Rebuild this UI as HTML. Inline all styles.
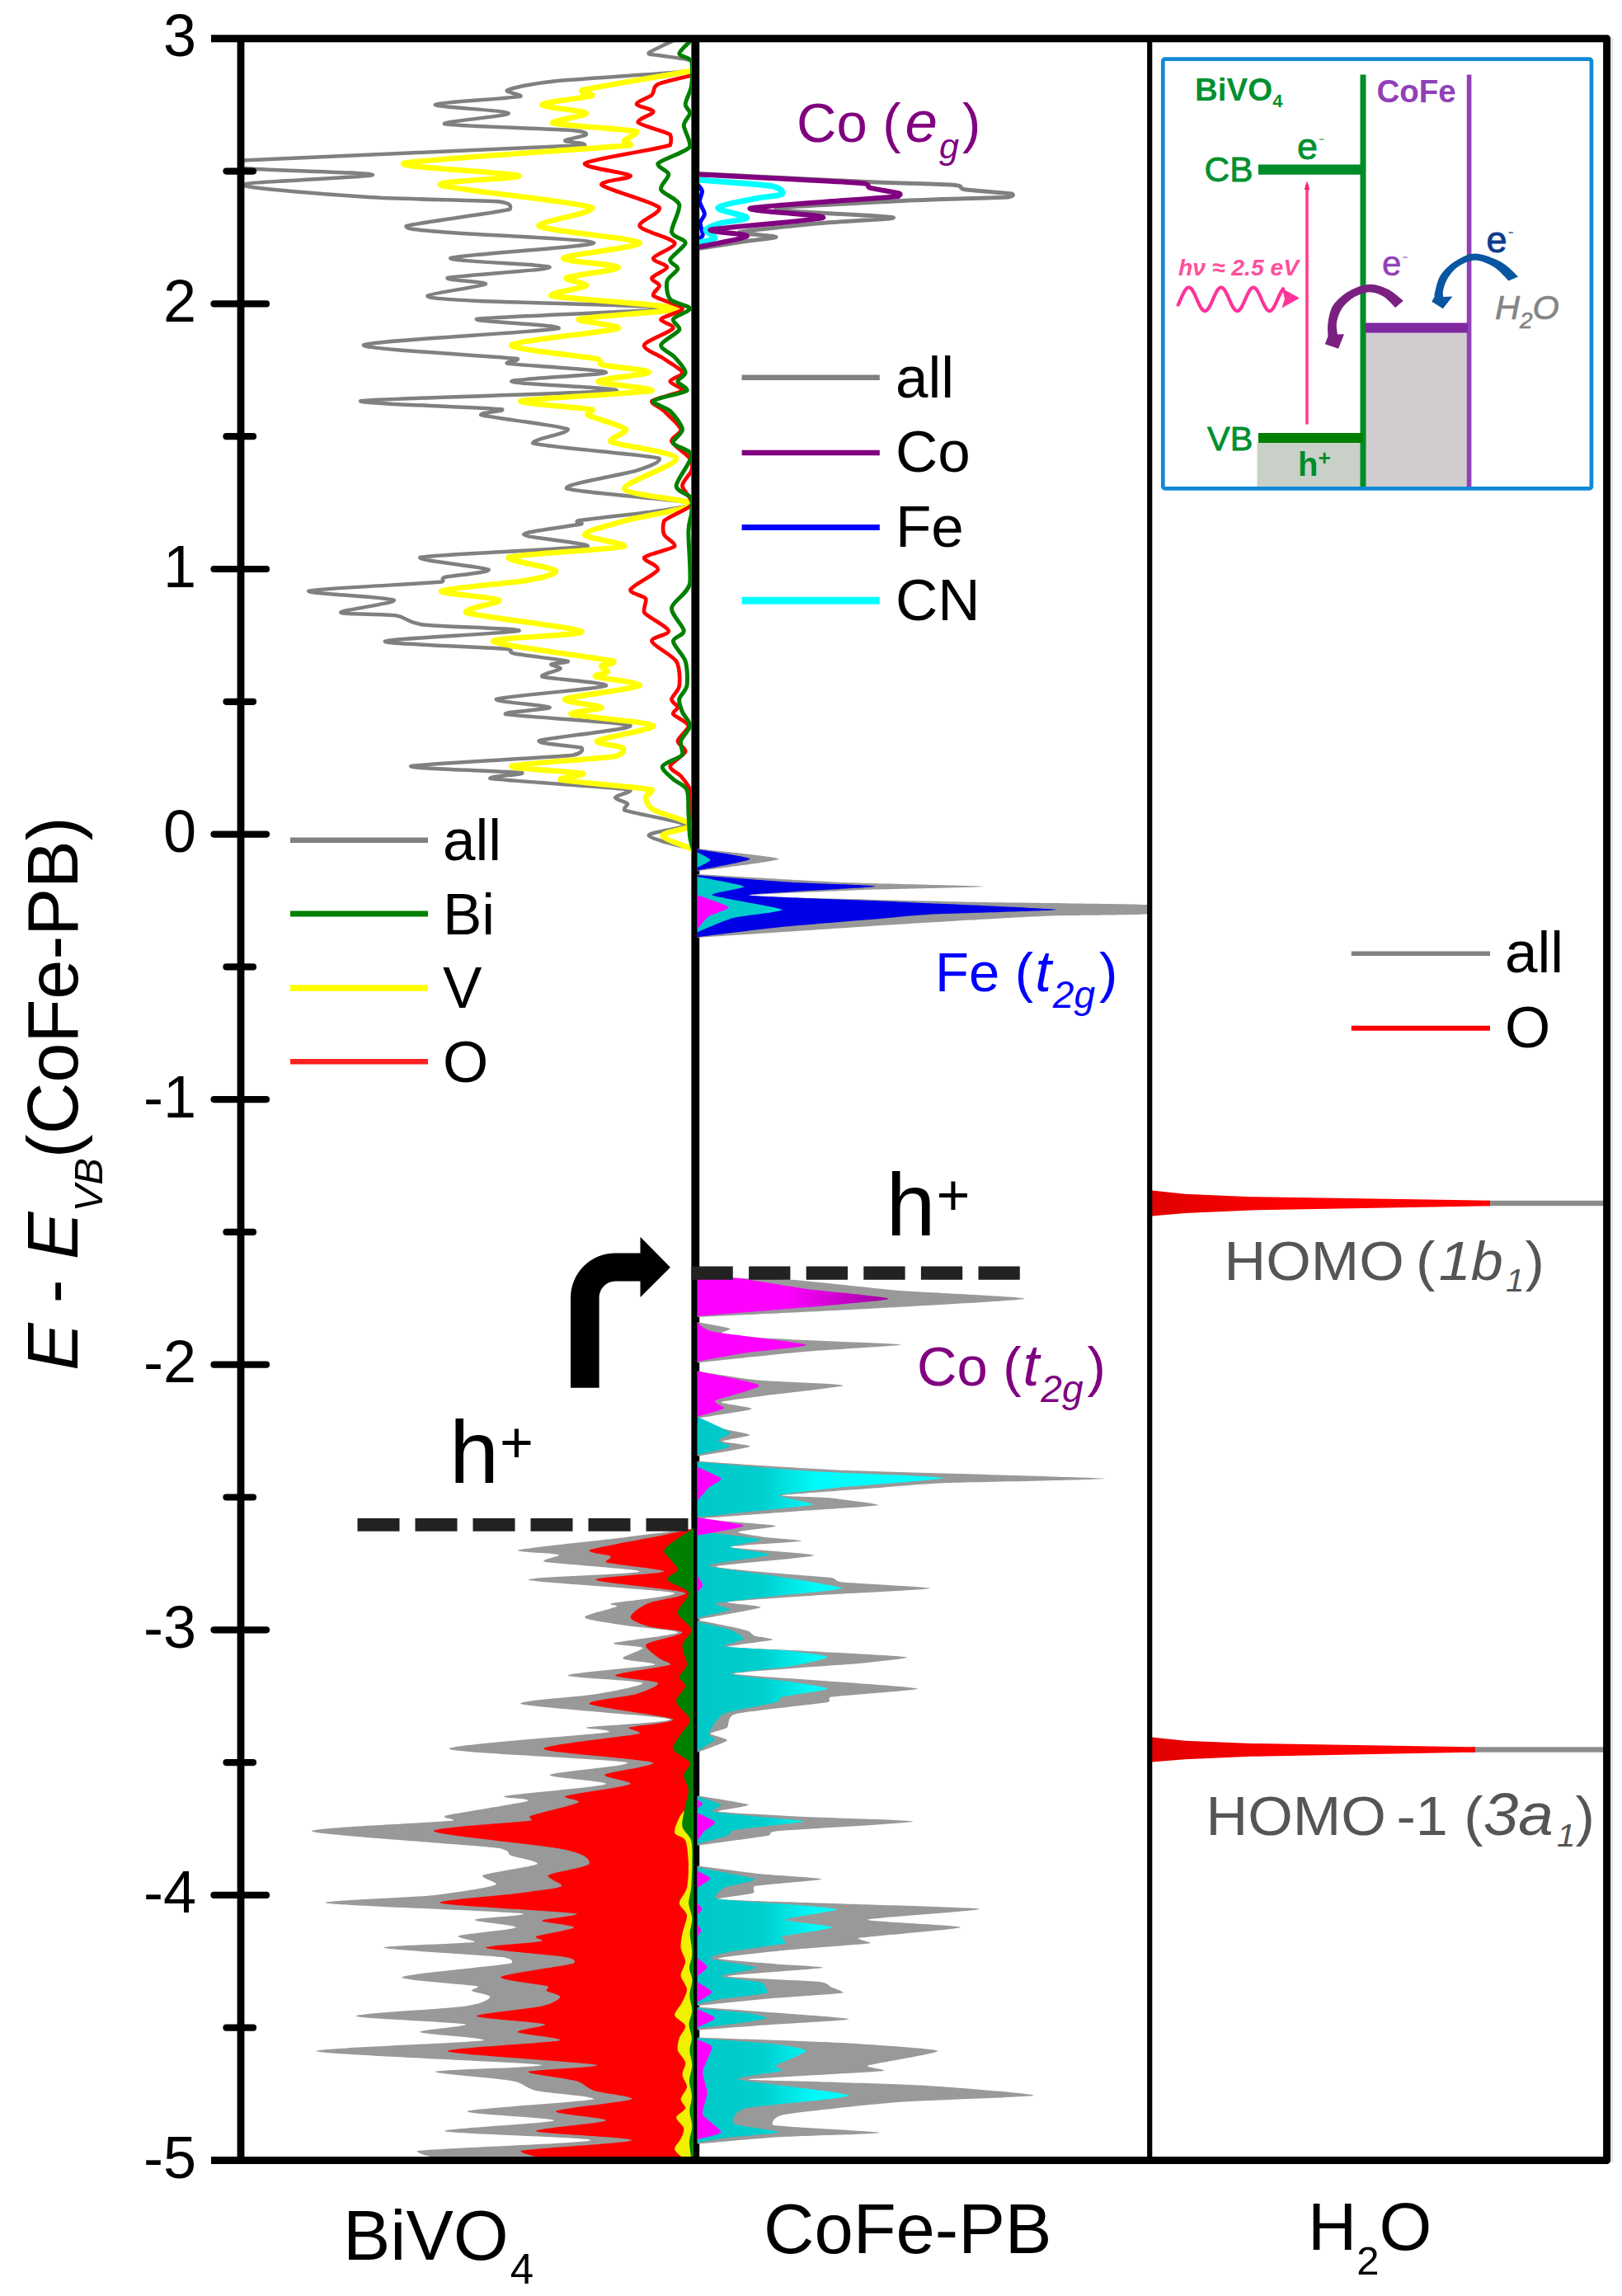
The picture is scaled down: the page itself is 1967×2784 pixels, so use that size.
<!DOCTYPE html>
<html><head><meta charset="utf-8"><title>DOS</title>
<style>
html,body{margin:0;padding:0;background:#fff;}
svg{display:block;}
text{font-family:"Liberation Sans",sans-serif;}
</style></head>
<body>
<svg width="1967" height="2784" viewBox="0 0 1967 2784">
<defs>
<linearGradient id="cy" gradientUnits="userSpaceOnUse" x1="848" y1="0" x2="1100" y2="0">
<stop offset="0" stop-color="#00c8c8"/><stop offset="0.3" stop-color="#00cece"/><stop offset="0.56" stop-color="#00fafa"/><stop offset="1" stop-color="#00ffff"/>
</linearGradient>
<linearGradient id="mg" gradientUnits="userSpaceOnUse" x1="848" y1="0" x2="1080" y2="0">
<stop offset="0" stop-color="#ff00ff"/><stop offset="0.45" stop-color="#ff00ff"/><stop offset="1" stop-color="#a000a0"/>
</linearGradient>
<linearGradient id="rd" gradientUnits="userSpaceOnUse" x1="1397" y1="0" x2="1810" y2="0">
<stop offset="0" stop-color="#e00000"/><stop offset="0.4" stop-color="#ff0000"/><stop offset="1" stop-color="#ff0000"/>
</linearGradient>
</defs>
<rect x="0" y="0" width="1967" height="2784" fill="#ffffff"/>
<clipPath id="cl"><rect x="292" y="46.8" width="546.7" height="2572.7"/></clipPath>
<clipPath id="cm"><rect x="847.9" y="46.8" width="546.3" height="2572.7"/></clipPath>
<line x1="843.3" y1="46.8" x2="843.3" y2="2619.5" stroke="#000" stroke-width="9.8"/>
<g fill="none" stroke-linejoin="round" stroke-linecap="round" clip-path="url(#cl)">
<path d="M818.2,48.5 C813.8,50.7 789.6,61.4 786.8,64.0 C785.3,66.6 790.6,65.6 797.9,67.0 C805.1,68.3 832.6,71.1 838.6,73.6 C841.9,76.2 841.9,82.0 840.4,85.5 C817.1,89.0 703.7,95.1 672.1,98.4 C640.5,101.8 620.5,106.9 614.8,109.5 C613.3,112.1 632.9,114.5 631.4,116.9 C619.2,119.4 529.9,124.1 527.8,126.9 C526.3,129.8 615.1,134.0 616.6,137.3 C618.1,140.5 537.4,147.4 538.9,150.2 C548.8,153.1 662.8,155.8 686.9,157.6 C711.0,159.4 711.2,161.4 710.9,163.2 C710.7,165.0 685.3,168.8 685.1,170.6 C684.8,172.4 710.6,172.7 709.1,176.1 C654.5,179.5 352.8,190.7 294.8,194.6 C293.3,198.5 293.3,201.4 294.8,203.9 C316.8,206.3 452.0,209.1 452.0,212.0 C452.0,214.8 295.6,220.4 294.8,224.2 C294.0,228.0 403.0,236.2 446.5,239.0 C490.0,241.8 581.4,242.5 605.5,244.5 C620.0,246.6 620.0,249.7 618.5,253.8 C602.7,257.9 503.8,270.3 492.7,274.1 C491.2,278.0 507.1,278.7 538.9,281.5 C570.8,284.4 719.2,290.1 720.2,294.5 C721.2,298.9 553.8,308.8 546.3,313.0 C544.8,317.1 667.1,320.7 666.6,324.1 C666.0,327.4 553.5,334.2 542.6,337.0 C541.1,339.9 590.4,341.4 588.9,344.4 C585.5,347.4 520.4,355.6 518.6,358.5 C517.1,361.3 534.8,362.6 575.9,364.8 C617.1,366.9 812.4,370.9 812.7,374.0 C812.9,377.1 596.7,383.6 577.8,387.0 C576.3,390.3 679.2,393.7 677.7,398.1 C658.5,402.5 447.9,413.2 440.9,418.4 C439.4,423.6 603.4,431.9 627.7,435.1 C629.2,438.2 613.3,438.3 614.8,440.6 C629.8,442.9 734.2,448.4 735.0,451.5 C735.8,454.5 618.8,459.4 620.3,462.6 C622.1,465.7 749.4,470.3 747.9,473.6 C722.3,477.0 456.6,483.0 437.2,486.2 C435.7,489.4 588.8,494.2 609.2,496.6 C610.7,499.0 581.8,499.9 583.3,503.2 C594.5,506.6 680.0,515.9 688.8,520.6 C690.3,525.4 644.7,532.4 646.2,537.3 C661.8,542.2 782.1,551.1 799.7,555.8 C801.2,560.4 787.8,565.5 772.0,570.6 C756.2,575.6 685.4,586.3 686.9,592.0 C696.2,597.7 836.8,605.7 838.6,611.3 C840.1,616.8 718.5,628.2 699.9,631.6 C698.4,635.0 706.9,633.0 705.4,635.3 C696.3,637.6 634.1,644.5 635.1,648.2 C636.2,652.0 714.3,658.4 712.8,662.3 C695.2,666.2 526.2,672.0 509.3,676.0 C507.8,680.0 588.4,687.4 592.6,690.8 C594.1,694.2 547.0,698.0 538.9,700.0 C533.7,702.1 540.4,703.3 535.2,705.6 C512.2,707.9 382.4,713.6 374.3,716.7 C372.8,719.8 472.5,724.2 477.9,727.8 C479.4,731.4 412.9,740.0 413.2,742.6 C413.4,745.2 465.8,744.2 479.8,746.3 C493.7,748.3 492.1,754.8 513.0,757.4 C534.0,760.0 631.1,761.9 629.6,764.8 C623.1,767.6 468.9,774.6 466.8,777.7 C465.3,780.8 592.8,784.9 614.8,787.0 C625.5,789.0 613.7,790.4 624.0,792.5 C634.4,794.6 682.5,800.0 688.8,801.8 C690.3,803.6 669.7,804.2 668.4,805.5 C667.1,806.8 681.0,808.9 679.5,811.0 C678.0,813.1 655.8,817.4 657.3,820.3 C665.1,823.1 736.5,827.5 735.0,831.4 C727.2,835.2 611.4,844.1 601.8,847.8 C600.3,851.5 665.0,855.2 666.6,857.7 C668.1,860.3 611.4,862.8 612.9,865.9 C626.6,869.0 758.9,875.4 764.6,879.9 C766.1,884.5 661.9,894.7 653.6,898.4 C652.1,902.2 699.7,904.5 705.4,906.9 C706.9,909.4 706.9,912.7 694.3,915.8 C665.3,918.9 506.8,926.1 498.2,929.1 C496.7,932.1 619.8,935.2 633.3,937.3 C634.8,939.3 592.9,941.1 594.4,943.9 C612.8,946.8 743.4,954.4 764.6,957.6 C766.1,960.8 746.6,964.5 746.1,966.9 C745.6,969.2 759.3,972.1 760.9,974.3 C762.4,976.4 755.7,978.8 757.2,982.4 C767.0,986.0 827.0,995.9 831.2,1000.2 C832.7,1004.5 785.5,1009.0 786.8,1013.1 C788.1,1017.3 832.9,1027.4 840.4,1029.8" stroke="#808080" stroke-width="4.5"/>
<path d="M840.4,85.5 C821.5,88.9 722.5,105.3 705.4,109.5 C703.9,113.8 719.8,113.4 718.3,115.8 C711.6,118.3 658.3,123.9 657.3,126.9 C656.3,129.9 709.1,134.2 710.9,137.3 C712.4,140.4 668.8,146.0 670.3,149.1 C678.8,152.2 759.8,156.5 772.0,159.5 C773.5,162.5 758.2,168.2 757.2,170.6 C756.2,172.9 766.1,172.2 764.6,176.1 C727.0,180.0 507.9,193.1 489.0,198.3 C487.5,203.5 623.4,209.5 629.6,213.1 C631.1,216.7 531.9,218.8 533.4,224.2 C545.8,229.6 701.5,245.0 718.3,251.9 C719.8,258.9 652.1,268.2 653.6,274.1 C661.6,280.1 771.5,289.1 775.7,294.5 C777.2,299.9 686.8,308.8 683.2,313.0 C681.7,317.1 749.3,320.7 749.8,324.1 C750.3,327.4 692.3,333.9 686.9,337.0 C685.4,340.1 712.4,343.3 710.9,346.3 C708.4,349.3 666.9,354.6 668.4,358.5 C683.7,362.4 815.4,370.0 820.1,374.0 C821.6,378.0 711.5,383.6 701.7,387.0 C700.2,390.3 751.3,393.7 749.8,398.1 C738.4,402.5 623.9,413.2 620.3,418.4 C618.8,423.6 708.4,431.7 723.9,435.1 C732.8,438.4 722.5,440.2 731.3,442.5 C740.1,444.7 787.6,448.6 786.8,451.5 C786.0,454.3 725.2,459.4 725.7,462.6 C726.3,465.7 792.0,470.3 790.5,473.6 C777.3,477.0 641.5,483.0 631.4,486.2 C629.9,489.4 707.0,494.2 718.3,496.6 C719.8,499.0 711.3,499.9 712.8,503.2 C718.5,506.6 755.2,516.1 759.0,520.6 C760.5,525.1 739.0,530.5 740.5,535.4 C749.1,540.3 817.7,547.7 820.1,555.8 C821.6,563.8 755.7,585.0 757.2,592.8 C759.9,600.5 839.3,605.8 839.3,611.3 C839.3,616.7 775.4,626.4 757.2,631.6 C739.0,636.8 709.1,644.0 709.1,648.2 C709.1,652.5 758.7,658.4 757.2,662.3 C744.2,666.2 628.3,671.8 616.6,676.0 C615.1,680.1 670.9,688.0 674.0,691.9 C675.5,695.8 658.2,700.3 638.8,703.7 C619.4,707.2 539.9,713.3 535.2,716.7 C533.7,720.0 601.4,724.2 605.5,727.8 C607.0,731.4 563.3,737.2 564.8,742.6 C578.8,747.9 700.7,761.0 705.4,765.9 C706.9,770.8 596.6,772.7 598.1,777.7 C603.6,782.7 725.9,797.6 744.2,801.8 C745.7,805.9 730.5,805.5 729.4,807.3 C728.4,809.1 737.9,812.9 736.8,814.7 C735.8,816.5 720.5,817.9 722.0,820.3 C727.5,822.6 777.2,827.5 775.7,831.4 C770.5,835.2 691.5,844.1 685.1,847.8 C683.6,851.5 728.4,855.2 729.4,857.7 C730.5,860.3 691.0,862.8 692.5,865.9 C701.3,869.0 787.9,875.4 792.3,879.9 C793.8,884.5 729.1,894.7 723.9,898.4 C722.4,902.2 752.2,904.4 755.3,906.9 C756.8,909.5 756.8,913.8 746.1,916.9 C727.2,920.0 625.8,926.2 620.3,929.1 C618.8,932.1 699.0,935.7 707.3,938.0 C708.8,940.3 678.0,942.7 679.5,945.4 C691.2,948.2 776.0,954.6 790.5,957.6 C792.0,960.6 782.8,963.5 783.1,966.9 C783.3,970.2 784.6,977.0 792.3,981.7 C800.1,986.3 837.0,995.8 838.6,1000.2 C840.1,1004.6 803.2,1009.0 803.4,1013.1 C803.7,1017.3 835.2,1027.4 840.4,1029.8" stroke="#ffff00" stroke-width="6.6"/>
<path d="M840.4,91.0 C834.5,92.6 804.9,98.8 797.9,102.1 C790.9,105.5 794.1,111.7 790.5,115.1 C786.9,118.4 771.7,123.3 772.0,126.2 C772.2,129.0 792.1,132.3 792.3,135.4 C792.6,138.5 772.3,144.5 773.8,148.4 C776.7,152.3 807.2,159.3 812.7,163.2 C814.2,167.1 814.2,171.2 812.7,176.1 C798.2,181.0 715.8,193.1 709.1,198.3 C707.6,203.5 761.7,209.5 764.6,213.1 C766.1,216.7 727.9,218.8 729.4,224.2 C734.4,229.6 793.3,245.0 799.7,251.9 C801.2,258.9 774.2,268.2 775.7,274.1 C778.3,280.1 815.9,289.1 818.2,294.5 C819.7,299.9 793.6,308.8 792.3,313.0 C791.0,317.1 809.2,320.7 809.0,324.1 C808.7,327.4 791.8,333.9 790.5,337.0 C789.2,340.1 799.5,343.3 799.7,346.3 C800.0,349.3 790.8,354.6 792.3,358.5 C796.2,362.4 826.2,370.0 827.5,374.0 C828.8,378.0 803.1,383.6 801.6,387.0 C800.1,390.3 817.9,393.7 816.4,398.1 C813.5,402.5 782.8,413.2 781.2,418.4 C779.7,423.6 798.8,430.4 805.3,435.1 C811.8,439.7 826.4,447.6 827.5,451.5 C828.5,455.3 812.7,459.4 812.7,462.6 C812.7,465.7 829.0,470.3 827.5,473.6 C824.4,477.0 793.6,482.8 790.5,486.2 C789.0,489.7 800.4,493.6 805.3,498.4 C810.2,503.3 824.3,515.5 825.6,520.6 C826.9,525.8 813.0,530.5 814.5,535.4 C816.1,540.3 833.4,550.9 836.7,555.8 C840.1,560.7 839.9,565.9 838.6,570.6 C837.3,575.2 827.4,583.4 827.5,589.1 C827.6,594.8 840.8,605.3 839.3,611.3 C836.2,617.2 810.0,626.4 805.3,631.6 C803.8,636.8 803.8,644.0 805.3,648.2 C807.1,652.5 819.7,658.4 818.2,662.3 C814.9,666.2 784.1,672.0 781.2,676.0 C779.7,680.0 799.4,685.4 797.9,690.8 C795.5,696.2 766.7,709.9 764.6,714.8 C763.1,719.8 780.8,722.0 783.1,725.9 C784.6,729.8 779.7,737.1 781.2,742.6 C785.1,748.0 809.5,759.9 810.8,764.8 C812.1,769.7 789.2,772.5 790.5,777.7 C791.8,782.9 815.4,794.3 820.1,801.8 C824.7,809.3 824.5,824.9 823.8,831.4 C823.0,837.8 814.8,844.1 814.5,847.8 C814.3,851.5 821.7,855.2 821.9,857.7 C822.2,860.3 814.9,862.8 816.4,865.9 C818.2,869.0 834.1,875.4 834.9,879.9 C835.6,884.5 822.4,894.0 821.9,898.4 C821.4,902.8 832.5,907.1 831.2,911.4 C829.9,915.7 813.5,925.0 812.7,929.1 C811.9,933.3 822.3,937.0 825.6,941.0 C829.0,945.0 834.9,951.4 836.7,957.6 C838.5,963.8 838.1,975.3 838.6,985.4 C839.1,995.5 840.2,1023.5 840.4,1029.8" stroke="#ff0000" stroke-width="4.7"/>
<path d="M838.6,48.5 C836.5,50.8 823.8,61.5 823.8,65.1 C823.8,68.8 836.5,69.0 838.6,74.4 C840.1,79.8 839.6,96.7 838.6,104.0 C837.5,111.2 831.4,121.5 831.2,126.2 C830.9,130.8 837.0,133.6 836.7,137.3 C836.5,140.9 829.3,146.4 829.3,152.1 C829.3,157.8 838.2,171.5 836.7,178.0 C832.3,184.4 801.5,193.6 797.9,198.3 C796.4,203.0 810.3,206.9 810.8,211.3 C811.3,215.7 800.1,224.6 801.6,229.8 C803.4,234.9 822.0,241.0 823.8,248.2 C825.3,255.5 813.5,275.1 814.5,281.5 C815.6,288.0 831.4,289.8 831.2,294.5 C830.9,299.1 814.0,310.4 812.7,314.8 C811.4,319.2 822.4,322.3 821.9,325.9 C821.4,329.6 810.3,335.5 809.0,340.7 C807.7,345.9 808.8,358.3 812.7,362.9 C816.6,367.6 836.2,370.7 836.7,374.0 C837.2,377.4 818.2,383.3 816.4,387.0 C814.9,390.6 825.3,395.5 823.8,399.9 C821.7,404.3 802.4,413.7 801.6,418.4 C800.8,423.1 814.1,428.6 818.2,433.2 C822.4,437.8 830.7,447.3 831.2,451.5 C831.7,455.6 821.7,459.4 821.9,462.6 C822.2,465.7 834.5,470.3 833.0,473.6 C828.9,477.0 795.2,482.8 792.3,486.2 C790.8,489.7 807.8,493.6 812.7,498.4 C817.6,503.3 827.0,515.2 827.5,520.6 C828.0,526.1 814.9,532.9 816.4,537.3 C817.9,541.7 838.1,544.8 838.6,552.1 C839.1,559.3 820.1,581.8 820.1,589.1 C820.1,596.3 836.0,599.2 838.6,603.9 C840.1,608.5 839.1,616.7 838.6,622.4 C838.1,628.1 835.1,632.6 834.9,644.5 C834.6,656.5 838.2,694.5 836.7,707.4 C833.9,720.4 815.6,729.0 814.5,737.0 C813.5,745.1 829.1,759.1 829.3,764.8 C829.6,770.5 816.1,772.5 816.4,777.7 C816.6,782.9 828.8,794.3 831.2,801.8 C833.5,809.3 834.1,824.9 833.0,831.4 C832.0,837.8 824.5,843.3 823.8,847.8 C823.0,852.2 825.7,858.8 827.5,863.3 C829.3,867.8 837.0,875.0 836.7,879.9 C836.5,884.9 826.9,893.5 825.6,898.4 C824.3,903.4 829.0,910.8 827.5,915.1 C824.4,919.4 805.0,925.0 803.4,929.1 C801.9,933.3 812.2,940.7 816.4,944.7 C820.5,948.7 830.4,951.9 833.0,957.6 C835.6,963.3 834.4,977.3 834.9,985.4 C835.4,993.4 835.9,1008.7 836.7,1015.0 C837.5,1021.2 839.9,1027.7 840.4,1029.8" stroke="#008000" stroke-width="5.0"/>
</g>
<path d="M840.4,1853.8 C827.7,1855.4 779.6,1861.3 749.8,1864.9 C720.0,1868.5 637.8,1876.8 627.7,1879.7 C626.2,1882.5 673.3,1883.3 677.7,1885.2 C679.2,1887.2 657.7,1890.5 659.2,1893.4 C672.9,1896.2 777.2,1902.5 775.7,1905.6 C773.1,1908.7 639.2,1911.9 640.7,1915.6 C646.6,1919.2 804.2,1927.4 818.2,1931.5 C819.7,1935.5 750.4,1942.1 740.5,1944.4 C739.0,1946.8 749.4,1945.8 747.9,1948.1 C743.5,1950.5 708.3,1958.0 709.1,1961.1 C709.9,1964.2 737.7,1967.7 753.5,1970.3 C769.3,1972.9 823.2,1976.5 821.9,1979.6 C820.6,1982.7 750.2,1989.9 744.2,1992.5 C742.7,1995.1 777.8,1995.5 779.4,1998.1 C780.9,2000.7 753.8,2008.2 755.3,2011.0 C757.4,2013.9 795.7,2015.6 794.2,2018.4 C784.9,2021.3 690.8,2028.2 688.8,2031.4 C687.3,2034.5 774.5,2037.4 779.4,2040.6 C780.9,2043.8 744.6,2050.5 723.9,2054.0 C703.2,2057.6 629.9,2061.6 631.4,2065.9 C643.8,2070.2 801.5,2080.7 812.7,2084.7 C814.2,2088.8 721.3,2092.6 710.9,2094.7 C709.4,2096.9 740.2,2096.7 738.7,2100.3 C715.4,2103.9 543.0,2115.5 544.5,2120.6 C547.6,2125.8 743.8,2132.9 760.9,2137.3 C762.4,2141.7 670.2,2148.4 666.6,2152.1 C665.1,2155.7 736.5,2159.5 735.0,2163.2 C727.2,2166.8 624.3,2175.1 611.1,2178.0 C609.6,2180.8 642.2,2180.1 640.7,2183.5 C630.6,2186.9 551.6,2198.6 538.9,2202.0 C537.4,2205.4 551.5,2205.0 550.0,2207.6 C527.5,2210.1 376.5,2215.8 378.0,2220.5 C385.8,2225.2 571.6,2236.7 605.5,2240.9 C621.8,2245.0 613.8,2247.4 620.3,2250.1 C626.8,2252.8 653.3,2256.7 651.8,2260.1 C646.8,2263.5 592.2,2270.6 585.2,2274.1 C583.7,2277.7 603.3,2281.9 601.8,2285.2 C593.3,2288.6 553.1,2295.1 524.1,2298.2 C495.1,2301.3 393.2,2304.3 394.7,2307.4 C410.2,2310.5 609.7,2317.5 635.1,2320.4 C636.6,2323.2 577.2,2325.5 575.9,2327.8 C574.6,2330.1 627.4,2334.3 625.9,2337.0 C623.0,2339.8 562.6,2344.9 555.6,2347.4 C554.1,2349.9 577.4,2352.8 575.9,2354.8 C563.2,2356.8 463.5,2359.2 465.0,2361.8 C469.9,2364.4 589.3,2370.6 611.1,2373.2 C621.8,2375.9 621.8,2377.3 620.3,2380.6 C603.0,2384.0 492.8,2393.4 487.2,2397.3 C485.7,2401.2 567.7,2406.1 579.6,2408.4 C581.1,2410.7 570.7,2412.1 572.2,2413.9 C574.3,2415.8 595.5,2418.7 594.4,2421.3 C593.4,2423.9 587.6,2429.2 564.8,2432.4 C542.0,2435.7 431.7,2441.5 431.7,2444.6 C431.7,2447.7 554.0,2451.9 564.8,2454.6 C566.3,2457.3 507.8,2461.2 509.3,2463.9 C512.5,2466.6 588.5,2470.6 587.0,2473.9 C569.4,2477.1 382.1,2483.0 383.6,2487.2 C393.4,2491.4 637.1,2500.4 657.3,2503.8 C658.8,2507.3 533.0,2509.3 527.8,2512.0 C526.3,2514.7 603.2,2519.9 620.3,2523.1 C637.4,2526.3 635.9,2531.8 649.9,2534.9 C663.9,2538.0 721.7,2541.7 720.2,2545.3 C708.5,2548.8 573.4,2556.4 566.7,2560.1 C565.2,2563.7 673.6,2567.8 672.1,2571.2 C668.2,2574.5 537.4,2580.7 538.9,2584.1 C545.2,2587.5 718.0,2591.8 716.5,2595.2 C711.8,2598.6 530.5,2604.8 505.6,2608.1 C504.1,2611.5 534.3,2617.7 538.9,2619.2 L538.9,2620.0 L840.9,2620.0 L840.9,1853.8 Z" fill="#999999"/>
<path d="M840.4,1853.8 C835.5,1854.8 822.9,1857.6 805.3,1861.2 C787.7,1864.8 723.7,1876.1 714.6,1879.7 C713.1,1883.3 737.7,1885.0 740.5,1887.1 C742.0,1889.2 733.5,1891.9 735.0,1894.5 C744.1,1897.1 806.8,1902.6 805.3,1905.6 C803.5,1908.5 720.5,1911.9 722.0,1915.6 C725.7,1919.2 822.4,1927.4 831.2,1931.5 C832.7,1935.5 794.3,1940.3 784.9,1944.4 C775.6,1948.6 764.3,1957.2 764.6,1961.1 C764.8,1965.0 778.0,1969.6 786.8,1972.2 C795.6,1974.8 828.0,1976.5 827.5,1979.6 C827.0,1982.7 787.0,1990.0 783.1,1994.4 C781.6,1998.8 795.6,2007.6 799.7,2011.0 C803.9,2014.4 814.2,2015.6 812.7,2018.4 C805.2,2021.3 748.2,2028.2 746.1,2031.4 C744.6,2034.5 794.3,2037.4 797.9,2040.6 C799.4,2043.8 783.6,2050.5 772.0,2054.0 C760.3,2057.6 713.1,2061.6 714.6,2065.9 C720.9,2070.2 809.6,2080.7 816.4,2084.7 C817.9,2088.8 768.4,2092.3 762.7,2094.7 C761.2,2097.2 777.2,2098.5 775.7,2102.1 C761.2,2105.8 657.7,2115.7 659.2,2120.6 C661.5,2125.5 782.0,2132.9 792.3,2137.3 C793.8,2141.7 737.0,2148.4 733.1,2152.1 C731.6,2155.7 766.1,2159.5 764.6,2163.2 C757.9,2166.8 693.9,2174.9 685.1,2178.0 C683.6,2181.1 703.2,2182.0 701.7,2185.4 C695.7,2188.7 650.5,2198.9 642.5,2202.0 C641.0,2205.1 645.9,2205.0 644.4,2207.6 C628.1,2210.1 524.5,2215.6 526.0,2220.5 C531.7,2225.4 658.6,2237.2 685.1,2242.7 C711.5,2248.2 716.1,2255.7 714.6,2260.1 C711.8,2264.5 669.4,2270.4 664.7,2274.1 C663.2,2277.9 682.9,2284.1 681.4,2287.1 C676.4,2290.1 650.3,2292.7 629.6,2295.6 C608.9,2298.4 531.9,2304.0 533.4,2307.4 C543.2,2310.9 682.5,2317.4 699.9,2320.4 C701.4,2323.4 657.8,2326.6 657.3,2328.9 C656.8,2331.2 697.2,2334.3 696.2,2337.0 C695.1,2339.7 655.4,2345.8 649.9,2348.1 C648.4,2350.5 658.8,2351.8 657.3,2353.7 C648.8,2355.6 587.4,2359.1 588.9,2361.8 C593.0,2364.6 671.9,2370.6 686.9,2373.2 C697.7,2375.9 697.7,2377.3 696.2,2380.6 C685.0,2384.0 611.8,2393.4 607.4,2397.3 C605.9,2401.2 656.9,2406.1 664.7,2408.4 C666.2,2410.7 661.4,2412.1 662.9,2413.9 C664.9,2415.8 680.3,2418.7 679.5,2421.3 C678.7,2423.9 671.6,2429.2 657.3,2432.4 C643.1,2435.7 577.3,2441.5 577.8,2444.6 C578.3,2447.7 654.0,2451.9 661.0,2454.6 C662.5,2457.3 626.2,2461.2 627.7,2463.9 C630.3,2466.6 681.0,2470.6 679.5,2473.9 C667.6,2477.1 541.1,2483.0 542.6,2487.2 C548.9,2491.4 710.2,2500.4 723.9,2503.8 C725.4,2507.3 644.3,2509.3 640.7,2512.0 C639.2,2514.7 686.9,2519.9 698.0,2523.1 C709.1,2526.3 710.6,2531.8 720.2,2534.9 C729.8,2538.0 767.9,2541.7 766.4,2545.3 C760.0,2548.8 678.4,2556.4 674.0,2560.1 C672.5,2563.7 736.5,2567.8 735.0,2571.2 C731.6,2574.5 648.4,2580.7 649.9,2584.1 C654.3,2587.5 767.9,2591.8 766.4,2595.2 C763.8,2598.6 645.1,2604.8 631.4,2608.1 C629.9,2611.5 663.2,2617.7 668.4,2619.2 L668.4,2620.0 L840.9,2620.0 L840.9,1853.8 Z" fill="#ff0000"/>
<path d="M838.6,2178.0 C838.1,2179.5 836.9,2185.4 834.9,2189.1 C832.8,2192.7 826.1,2199.2 823.8,2203.9 C821.4,2208.5 817.2,2218.5 818.2,2222.4 C819.3,2226.2 828.8,2226.4 831.2,2231.6 C833.5,2236.8 834.6,2251.3 834.9,2259.3 C835.1,2267.4 834.6,2282.2 833.0,2288.9 C831.5,2295.7 823.8,2302.8 823.8,2307.4 C823.8,2312.1 832.5,2317.1 833.0,2322.2 C833.5,2327.4 828.5,2338.9 827.5,2344.4 C826.4,2350.0 825.1,2357.0 825.6,2361.8 C826.1,2366.6 831.2,2374.1 831.2,2378.8 C831.2,2383.5 825.4,2390.8 825.6,2395.4 C825.9,2400.1 832.9,2407.4 833.0,2412.1 C833.2,2416.7 828.8,2424.3 826.7,2428.7 C824.7,2433.1 817.6,2439.6 818.2,2443.5 C818.8,2447.4 830.4,2452.6 831.2,2456.5 C831.9,2460.4 825.1,2467.1 823.8,2471.3 C822.5,2475.4 820.9,2481.9 821.9,2486.1 C823.0,2490.2 830.4,2496.7 831.2,2500.9 C831.9,2505.0 827.2,2511.5 827.5,2515.7 C827.7,2519.8 833.3,2526.3 833.0,2530.5 C832.8,2534.6 825.9,2541.6 825.6,2545.3 C825.4,2548.9 831.9,2553.2 831.2,2556.4 C830.4,2559.5 820.3,2564.1 820.1,2567.5 C819.8,2570.8 828.5,2576.8 829.3,2580.4 C830.1,2584.0 827.2,2589.7 825.6,2593.3 C824.1,2597.0 817.4,2602.7 818.2,2606.3 C819.0,2609.9 829.4,2617.4 831.2,2619.2 L831.2,2620.0 L840.9,2620.0 L840.9,2178.0 Z" fill="#f0f000"/>
<path d="M840.4,1853.8 C837.6,1855.6 825.0,1863.1 820.1,1866.7 C815.2,1870.4 806.1,1876.1 805.3,1879.7 C804.5,1883.3 812.2,1889.3 814.5,1892.6 C816.9,1896.0 822.7,1900.5 821.9,1903.7 C821.1,1906.9 807.5,1911.7 809.0,1915.6 C810.8,1919.5 833.1,1925.9 834.9,1931.5 C836.4,1937.1 821.4,1949.3 821.9,1955.5 C822.4,1961.7 837.8,1970.4 838.6,1975.9 C839.3,1981.3 828.2,1988.4 827.5,1994.4 C826.7,2000.3 833.5,2013.0 833.0,2018.4 C832.5,2023.8 824.0,2029.5 823.8,2033.2 C823.5,2036.9 831.7,2040.6 831.2,2044.8 C830.7,2049.0 819.3,2057.7 820.1,2063.3 C820.9,2068.9 835.7,2079.6 836.7,2084.7 C837.8,2089.9 830.3,2095.3 827.5,2100.3 C824.6,2105.3 815.1,2115.5 816.4,2120.6 C817.7,2125.8 834.9,2132.9 836.7,2137.3 C838.2,2141.7 829.6,2147.4 829.3,2152.1 C829.1,2156.7 834.7,2164.9 834.9,2170.6 C835.0,2176.3 831.5,2186.5 830.4,2192.8 C829.4,2199.0 826.4,2209.5 827.5,2215.0 C828.6,2220.4 836.5,2225.4 838.2,2231.6 C839.9,2237.8 839.3,2251.3 839.3,2259.3 C839.3,2267.4 838.8,2282.2 838.2,2288.9 C837.6,2295.7 835.1,2302.3 835.2,2307.4 C835.4,2312.6 839.1,2320.8 839.3,2325.9 C839.5,2331.1 836.8,2339.4 836.7,2344.4 C836.7,2349.5 838.6,2357.8 838.9,2361.8 C839.3,2365.8 839.4,2369.8 838.9,2373.2 C838.5,2376.7 835.9,2382.3 836.0,2386.2 C836.0,2390.1 839.3,2396.3 839.3,2401.0 C839.4,2405.7 836.4,2414.3 836.4,2419.5 C836.4,2424.7 839.4,2433.1 839.3,2438.0 C839.2,2442.9 835.7,2450.0 835.6,2454.6 C835.6,2459.3 838.8,2466.9 838.9,2471.3 C839.0,2475.7 836.3,2481.4 836.4,2486.1 C836.4,2490.7 839.4,2499.4 839.3,2504.6 C839.3,2509.7 836.0,2517.9 836.0,2523.1 C835.9,2528.2 838.9,2536.4 838.9,2541.6 C839.0,2546.7 836.3,2554.9 836.4,2560.1 C836.4,2565.2 839.4,2573.4 839.3,2578.5 C839.3,2583.7 836.1,2591.3 836.0,2597.0 C835.9,2602.7 838.2,2616.1 838.6,2619.2 L838.6,2620.0 L840.9,2620.0 L840.9,1853.8 Z" fill="#008000"/>
<g fill="none" stroke-linejoin="round" stroke-linecap="round" clip-path="url(#cm)">
<path d="M844.8,210.5 C873.8,211.9 1008.4,218.6 1051.9,220.5 C1095.5,222.4 1139.0,222.9 1155.5,224.2 C1171.8,225.5 1160.2,228.2 1170.3,229.8 C1180.4,231.3 1220.4,234.0 1227.7,235.3 C1229.2,236.6 1229.2,237.8 1222.1,239.0 C1202.7,240.2 1128.3,241.7 1088.9,243.8 C1049.6,245.9 941.8,251.0 941.0,253.8 C940.2,256.6 1075.6,261.5 1083.4,263.8 C1084.9,266.1 1022.6,268.0 996.5,270.4 C970.3,272.9 904.4,279.2 896.6,281.5 C895.1,283.9 939.9,285.5 941.0,287.1 C942.0,288.6 917.4,290.6 904.0,292.6 C890.5,294.7 853.1,300.6 844.8,301.9" stroke="#808080" stroke-width="5"/>
<path d="M844.8,222.4 C845.7,223.6 850.9,228.5 851.5,231.6 C852.0,234.7 848.1,240.7 848.5,244.5 C848.9,248.4 854.3,255.7 854.4,259.3 C854.5,263.0 849.5,266.8 849.2,270.4 C848.9,274.1 852.8,282.4 852.2,285.2 C851.6,288.1 845.8,290.0 844.8,290.8" stroke="#0000ff" stroke-width="5"/>
<path d="M844.8,217.9 C857.2,219.0 919.1,222.9 933.6,225.3 C948.1,227.7 949.9,233.1 948.4,235.3 C945.8,237.5 926.0,238.5 915.1,240.9 C904.2,243.2 872.0,248.7 870.7,251.9 C869.4,255.2 905.3,261.2 905.8,263.8 C906.4,266.4 881.4,268.4 874.4,270.4 C867.4,272.5 856.9,276.0 855.9,278.6 C854.9,281.2 868.5,286.7 867.0,288.9 C865.4,291.2 847.9,293.7 844.8,294.5" stroke="#00ffff" stroke-width="7"/>
<path d="M844.8,211.3 C873.3,212.8 1018.7,220.0 1048.2,222.4 C1057.1,224.7 1049.7,226.2 1055.6,227.9 C1061.6,229.6 1086.1,233.1 1090.8,234.6 C1092.3,236.0 1092.3,235.7 1088.9,238.3 C1063.6,240.8 922.2,249.1 909.5,252.7 C908.0,256.3 999.8,260.2 998.3,263.8 C991.6,267.4 874.4,275.4 861.4,278.6 C859.9,281.7 907.3,283.3 905.8,286.4 C903.5,289.4 853.3,298.1 844.8,300.0" stroke="#800080" stroke-width="6"/>
</g>
<path d="M845.7,1029.0 C855.6,1030.3 944.7,1038.9 944.7,1041.6 C944.7,1044.3 855.6,1054.9 845.7,1056.4 Z" fill="#999999"/>
<path d="M845.7,1060.1 C862.6,1061.0 980.3,1068.2 1015.0,1069.7 C1049.6,1071.2 1188.1,1074.0 1192.5,1074.9 C1194.0,1075.8 1088.2,1077.5 1059.3,1078.6 C1030.5,1079.7 902.5,1084.5 904.0,1086.0 C914.3,1087.5 1114.1,1092.3 1162.9,1093.4 C1211.8,1094.5 1369.3,1095.6 1392.3,1097.1 C1393.8,1098.6 1393.8,1106.8 1392.3,1108.2 C1380.4,1109.5 1295.4,1109.7 1273.9,1110.4 C1252.4,1111.1 1199.9,1114.3 1177.7,1115.6 C1155.5,1116.9 1085.1,1121.2 1051.9,1123.3 C1018.7,1125.5 866.3,1135.7 845.7,1137.0 Z" fill="#999999"/>
<path d="M845.7,1029.8 C852.1,1030.9 909.5,1039.0 909.5,1041.6 C909.5,1044.2 852.1,1054.2 845.7,1055.6 Z" fill="#0000e6"/>
<path d="M845.7,1061.2 C857.1,1062.0 937.9,1068.3 959.5,1069.7 C981.0,1071.1 1062.7,1073.3 1061.2,1074.9 C1056.0,1076.4 906.2,1083.4 907.7,1085.2 C910.5,1087.1 1051.6,1091.6 1088.9,1093.4 C1126.3,1095.2 1277.6,1101.4 1281.3,1103.0 C1282.8,1104.5 1149.2,1107.7 1125.9,1108.9 C1102.6,1110.2 1066.7,1114.0 1048.2,1115.6 C1029.8,1117.2 961.2,1122.7 941.0,1124.8 C920.7,1126.9 855.2,1135.1 845.7,1136.3 Z" fill="#0000e6"/>
<path d="M845.7,1033.5 C847.3,1034.4 861.4,1040.9 861.4,1042.7 C861.4,1044.5 847.3,1051.0 845.7,1051.9 Z" fill="url(#cy)"/>
<path d="M845.7,1063.0 C851.4,1064.2 900.4,1072.7 902.1,1074.9 C903.6,1077.1 861.8,1082.4 863.3,1085.2 C867.9,1088.1 945.8,1100.2 948.4,1103.0 C949.9,1105.8 899.5,1110.2 889.2,1113.0 C878.9,1115.7 850.1,1128.6 845.7,1130.4 Z" fill="url(#cy)"/>
<path d="M845.7,1085.2 C849.5,1086.7 882.3,1097.4 883.6,1100.0 C885.0,1102.6 863.4,1108.5 859.6,1111.1 C855.8,1113.8 847.1,1125.1 845.7,1126.7 Z" fill="#ff00ff"/>
<path d="M845.7,1548.9 C857.1,1549.2 935.1,1550.2 959.5,1551.8 C983.8,1553.4 1060.6,1562.5 1088.9,1564.8 C1117.2,1567.1 1244.0,1572.5 1242.5,1574.8 C1238.8,1577.0 1091.6,1584.7 1051.9,1587.0 C1012.3,1589.2 866.3,1596.0 845.7,1597.0 Z" fill="#999999"/>
<path d="M845.7,1602.9 C849.7,1603.7 883.0,1609.5 885.5,1611.0 C887.0,1612.6 869.2,1617.0 870.7,1618.4 C879.9,1619.8 955.8,1623.8 978.0,1625.1 C1000.2,1626.3 1092.6,1629.2 1092.6,1630.6 C1092.6,1632.0 1002.7,1636.6 978.0,1638.8 C953.3,1640.9 858.9,1651.1 845.7,1652.4 Z" fill="#999999"/>
<path d="M845.7,1548.9 C850.4,1548.9 879.7,1548.9 892.9,1549.6 C906.1,1551.0 959.5,1560.4 978.0,1562.9 C996.5,1565.4 1077.8,1572.5 1077.8,1574.8 C1077.8,1577.0 1001.2,1583.0 978.0,1585.1 C954.8,1587.3 858.9,1595.1 845.7,1596.2 Z" fill="url(#mg)"/>
<path d="M845.7,1603.6 C847.7,1604.7 851.9,1612.0 865.1,1614.7 C878.4,1617.4 974.1,1628.0 978.0,1630.6 C979.5,1633.2 917.2,1638.6 904.0,1640.6 C890.8,1642.6 851.5,1649.9 845.7,1651.0 Z" fill="url(#mg)"/>
<path d="M845.7,1662.6 C853.0,1663.7 901.1,1671.9 918.8,1673.6 C936.4,1675.4 1022.0,1678.0 1022.4,1679.9 C1022.7,1681.9 937.3,1690.9 922.5,1692.9 C907.7,1694.9 875.5,1698.7 874.4,1700.3 C873.3,1701.8 912.9,1706.5 911.4,1708.4 C908.5,1710.3 852.3,1718.4 845.7,1719.5 Z" fill="#999999"/>
<path d="M845.7,1725.4 C849.7,1726.3 879.1,1732.8 885.5,1734.3 C891.9,1735.8 910.5,1738.9 909.5,1740.2 C908.6,1741.6 876.2,1746.3 876.2,1747.6 C876.2,1749.0 911.0,1752.1 909.5,1753.9 C906.5,1755.7 852.1,1764.6 845.7,1765.8 Z" fill="#999999"/>
<path d="M845.7,1771.7 C862.6,1772.7 965.5,1780.3 1015.0,1782.4 C1064.4,1784.5 1327.5,1791.2 1340.5,1792.8 C1342.0,1794.4 1171.8,1797.2 1144.4,1798.3 C1117.1,1799.4 1086.4,1802.4 1066.7,1803.9 C1047.1,1805.3 954.7,1811.9 948.4,1813.1 C946.9,1814.3 992.2,1814.9 1003.9,1816.1 C1015.5,1817.3 1066.4,1823.4 1064.9,1824.9 C1062.3,1826.5 999.9,1829.9 978.0,1831.6 C956.0,1833.3 858.9,1840.6 845.7,1841.6 Z" fill="#999999"/>
<path d="M845.7,1842.0 C855.2,1842.8 936.1,1848.5 941.0,1850.1 C942.5,1851.7 896.2,1856.1 894.7,1857.5 C893.3,1858.9 918.4,1862.7 926.2,1863.8 C933.9,1864.9 973.9,1867.4 972.4,1868.6 C968.3,1869.8 884.0,1874.3 885.5,1876.0 C887.0,1877.7 988.7,1883.6 987.2,1886.0 C985.5,1888.3 873.5,1897.2 868.8,1899.3 C867.3,1901.4 927.1,1906.1 941.0,1907.4 C954.8,1908.8 999.4,1911.9 1007.6,1913.0 C1015.7,1914.1 1010.3,1917.2 1022.4,1918.5 C1034.4,1919.8 1129.3,1924.5 1127.8,1925.9 C1126.3,1927.4 1032.2,1931.7 1007.6,1933.3 C983.0,1935.0 890.3,1941.0 881.8,1942.6 C880.3,1944.1 924.0,1946.8 922.5,1948.9 C918.9,1951.0 853.4,1962.2 845.7,1963.7 Z" fill="#999999"/>
<path d="M845.7,1718.0 C846.7,1718.5 851.9,1720.6 855.9,1722.5 C859.9,1724.4 884.0,1734.9 885.5,1737.3 C887.0,1739.7 870.7,1744.9 870.7,1746.5 C870.7,1748.2 887.0,1752.2 885.5,1753.9 C883.0,1755.7 849.7,1762.9 845.7,1763.9 Z" fill="url(#cy)"/>
<path d="M845.7,1772.4 C858.9,1773.5 948.1,1781.6 978.0,1783.5 C1007.8,1785.5 1140.7,1790.0 1144.4,1792.0 C1145.9,1794.1 1034.9,1801.8 1015.0,1803.9 C995.0,1806.0 947.6,1811.1 944.7,1813.1 C943.2,1815.1 986.9,1822.2 985.4,1824.2 C981.3,1826.2 917.9,1831.9 904.0,1833.5 C890.0,1835.0 851.5,1839.1 845.7,1839.7 Z" fill="url(#cy)"/>
<path d="M845.7,1856.8 C853.4,1857.8 918.5,1864.8 922.5,1866.7 C924.0,1868.7 884.4,1874.1 885.5,1876.0 C886.6,1877.8 935.1,1883.0 933.6,1885.2 C931.0,1887.5 858.9,1895.6 859.6,1898.2 C860.3,1900.8 924.9,1908.4 941.0,1911.1 C957.1,1913.9 1020.5,1923.5 1020.5,1925.9 C1020.5,1928.3 956.3,1933.3 941.0,1935.2 C925.6,1937.0 872.5,1942.8 867.0,1944.4 C865.5,1946.1 887.0,1950.1 885.5,1951.8 C883.4,1953.6 849.7,1960.8 845.7,1961.8 Z" fill="url(#cy)"/>
<path d="M845.7,1662.6 C853.2,1664.3 918.5,1676.4 920.6,1679.9 C922.1,1683.5 871.2,1695.7 867.0,1698.4 C865.5,1701.2 879.6,1705.8 878.1,1707.7 C876.0,1709.6 849.0,1716.7 845.7,1717.7 Z" fill="url(#mg)"/>
<path d="M845.7,1779.1 C848.6,1780.4 873.0,1790.3 874.4,1792.8 C875.8,1795.2 862.5,1801.2 859.6,1803.9 C856.7,1806.5 847.1,1817.8 845.7,1819.4 Z" fill="url(#mg)"/>
<path d="M845.7,1840.1 C851.4,1841.1 902.1,1847.9 902.1,1850.1 C902.1,1852.3 851.4,1860.8 845.7,1861.9 Z" fill="url(#mg)"/>
<path d="M845.7,1910.4 C846.4,1911.6 852.2,1920.2 852.2,1922.2 C852.2,1924.2 846.4,1929.6 845.7,1930.4 Z" fill="url(#mg)"/>
<path d="M845.7,1964.2 C849.7,1965.0 879.3,1970.9 885.5,1972.3 C891.7,1973.7 904.7,1976.7 907.7,1977.8 C910.6,1979.0 912.1,1982.4 915.1,1983.4 C918.0,1984.4 938.8,1986.8 937.3,1988.2 C933.9,1989.6 880.3,1995.7 881.8,1997.1 C885.9,1998.4 956.1,2000.7 978.0,2001.9 C999.8,2003.1 1093.4,2007.8 1100.0,2009.3 C1101.5,2010.8 1057.5,2015.4 1044.5,2016.7 C1031.6,2018.0 986.1,2020.9 970.6,2022.2 C955.0,2023.5 887.7,2027.9 889.2,2029.6 C893.6,2031.3 992.6,2037.4 1015.0,2039.2 C1037.3,2041.1 1113.7,2045.9 1113.0,2047.8 C1112.2,2049.6 1018.5,2056.1 1007.6,2057.7 C1002.4,2059.4 1009.1,2062.0 1003.9,2064.0 C992.4,2066.1 905.1,2075.0 892.9,2078.1 C880.7,2081.2 884.9,2092.3 881.8,2094.7 C878.6,2097.1 861.4,2100.5 861.4,2102.1 C861.4,2103.7 883.3,2108.3 881.8,2110.6 C880.2,2112.9 849.3,2123.6 845.7,2125.1 Z" fill="#999999"/>
<path d="M845.7,2177.2 C851.9,2178.3 905.2,2186.4 907.7,2188.3 C909.2,2190.2 869.2,2195.0 870.7,2196.5 C877.7,2197.9 954.3,2201.9 978.0,2203.1 C1001.6,2204.3 1108.9,2206.9 1107.4,2208.7 C1103.7,2210.4 958.7,2218.8 941.0,2220.5 C928.4,2222.2 939.4,2224.3 929.9,2226.1 C920.4,2227.8 854.1,2236.7 845.7,2237.9 Z" fill="#999999"/>
<path d="M845.7,2262.3 C853.4,2263.3 907.4,2270.7 922.5,2272.3 C937.6,2273.9 997.2,2277.1 996.5,2278.6 C995.7,2280.1 923.4,2285.4 915.1,2287.1 C911.7,2288.8 916.6,2294.0 913.2,2295.6 C908.8,2297.2 869.2,2301.7 870.7,2303.0 C880.9,2304.3 983.1,2307.0 1015.0,2308.2 C1046.8,2309.4 1185.1,2312.9 1188.8,2314.8 C1190.3,2316.8 1054.4,2325.6 1051.9,2327.8 C1050.4,2330.0 1165.9,2334.8 1164.8,2337.0 C1163.7,2339.2 1051.8,2348.1 1040.9,2350.0 C1039.4,2351.9 1057.1,2354.8 1055.6,2356.3 C1046.8,2357.7 970.6,2362.9 952.1,2364.8 C933.6,2366.6 871.8,2373.1 870.7,2374.8 C869.6,2376.4 928.2,2380.3 941.0,2381.4 C953.7,2382.5 999.8,2384.4 998.3,2385.9 C992.4,2387.3 882.3,2394.5 881.8,2396.2 C881.2,2397.9 980.2,2401.6 992.8,2402.9 C1005.3,2404.2 1004.6,2407.8 1007.6,2409.2 C1010.5,2410.5 1023.9,2415.1 1022.4,2416.6 C1014.2,2418.0 943.8,2422.4 926.2,2424.0 C908.5,2425.5 853.8,2431.3 845.7,2432.1 Z" fill="#999999"/>
<path d="M845.7,1966.4 C849.7,1967.3 879.8,1973.9 885.5,1976.0 C891.1,1978.1 902.9,1985.1 902.1,1987.1 C901.4,1989.1 876.6,1994.9 878.1,1996.3 C883.8,1997.8 946.9,2000.6 959.5,2001.9 C972.0,2003.2 1003.9,2007.4 1003.9,2009.3 C1003.9,2011.1 971.3,2018.3 959.5,2020.4 C947.6,2022.4 885.5,2027.7 885.5,2029.6 C885.5,2031.5 947.6,2037.4 959.5,2039.2 C971.3,2041.1 1005.0,2045.9 1003.9,2047.8 C1002.7,2049.6 954.7,2056.1 948.4,2057.7 C942.1,2059.4 948.0,2062.0 941.0,2064.0 C933.9,2066.1 886.2,2074.3 878.1,2078.1 C870.0,2081.9 860.7,2099.0 859.6,2102.1 C858.5,2105.3 868.4,2107.4 867.0,2109.5 C865.6,2111.6 847.8,2121.8 845.7,2123.2 Z" fill="url(#cy)"/>
<path d="M845.7,2178.0 C848.6,2179.0 872.6,2186.5 874.4,2188.3 C875.9,2190.2 861.8,2195.0 863.3,2196.5 C868.1,2197.9 911.4,2201.9 922.5,2203.1 C933.6,2204.3 975.8,2207.1 974.3,2208.7 C971.3,2210.2 902.1,2216.9 892.9,2218.7 C883.6,2220.4 886.5,2224.3 881.8,2226.1 C877.1,2227.8 849.3,2235.0 845.7,2236.0 Z" fill="url(#cy)"/>
<path d="M845.7,2264.2 C852.7,2265.6 911.8,2276.1 915.1,2278.6 C916.6,2281.1 882.9,2286.6 878.1,2288.9 C873.3,2291.3 865.5,2299.9 867.0,2301.9 C875.1,2303.9 944.7,2307.9 959.5,2309.3 C974.3,2310.7 1015.7,2313.7 1015.0,2315.6 C1014.2,2317.4 952.6,2325.6 952.1,2327.8 C951.5,2329.9 1009.8,2335.0 1009.4,2337.0 C1009.0,2339.1 954.1,2346.2 948.4,2348.1 C946.9,2350.0 953.6,2354.4 952.1,2356.3 C945.8,2358.1 894.5,2364.8 885.5,2366.6 C876.4,2368.5 859.9,2372.8 861.4,2374.8 C864.6,2376.7 915.6,2383.7 916.9,2385.9 C918.2,2388.0 873.8,2394.4 874.4,2396.2 C874.9,2398.0 916.9,2401.6 922.5,2403.6 C928.0,2405.6 931.4,2414.5 929.9,2416.6 C925.1,2418.6 882.8,2422.6 874.4,2424.0 C866.0,2425.3 848.6,2429.6 845.7,2430.2 Z" fill="url(#cy)"/>
<path d="M845.7,2181.7 C846.4,2182.2 852.2,2186.1 852.2,2187.2 C852.2,2188.3 846.4,2192.2 845.7,2192.8 Z" fill="url(#mg)"/>
<path d="M845.7,2198.3 C847.8,2199.4 866.2,2207.2 867.0,2209.4 C867.8,2211.6 856.2,2218.3 854.0,2220.5 C851.9,2222.7 846.6,2230.5 845.7,2231.6 Z" fill="url(#mg)"/>
<path d="M845.7,2268.6 C847.3,2269.5 861.4,2275.8 861.4,2277.8 C861.4,2279.9 847.3,2287.8 845.7,2288.9 Z" fill="url(#mg)"/>
<path d="M845.7,2307.4 C846.3,2308.2 851.5,2313.4 851.5,2314.8 C851.5,2316.3 846.3,2321.5 845.7,2322.2 Z" fill="url(#mg)"/>
<path d="M845.7,2333.3 C846.2,2334.1 850.3,2339.2 850.3,2340.7 C850.3,2342.2 846.2,2347.4 845.7,2348.1 Z" fill="url(#mg)"/>
<path d="M845.7,2374.0 C846.9,2375.1 857.7,2382.9 857.7,2385.1 C857.7,2387.3 846.9,2395.1 845.7,2396.2 Z" fill="url(#mg)"/>
<path d="M845.7,2403.6 C847.5,2404.8 863.3,2413.0 863.3,2415.5 C863.3,2417.9 847.5,2426.4 845.7,2427.7 Z" fill="url(#mg)"/>
<path d="M845.7,2433.5 C855.2,2434.2 922.6,2439.1 941.0,2440.6 C959.4,2442.1 1029.8,2446.9 1029.8,2448.3 C1029.8,2449.7 959.4,2453.3 941.0,2454.6 C922.6,2456.0 855.2,2461.0 845.7,2461.7 Z" fill="#999999"/>
<path d="M845.7,2470.5 C862.6,2471.2 985.8,2475.2 1015.0,2476.8 C1044.1,2478.5 1133.3,2484.0 1137.0,2486.8 C1138.5,2489.6 1058.4,2502.2 1051.9,2504.6 C1050.4,2507.0 1073.8,2509.2 1072.3,2510.9 C1057.9,2512.5 917.1,2519.9 907.7,2521.2 C906.2,2522.5 956.9,2523.1 978.0,2523.8 C999.1,2524.5 1091.0,2526.9 1118.5,2528.6 C1146.1,2530.3 1255.1,2538.8 1253.6,2540.8 C1250.6,2542.9 1119.1,2546.7 1088.9,2549.0 C1058.8,2551.3 967.2,2561.0 952.1,2563.8 C936.9,2566.5 935.8,2574.5 937.3,2576.7 C948.7,2578.9 1066.4,2584.5 1066.7,2585.9 C1067.1,2587.4 963.1,2590.1 941.0,2591.5 C918.9,2592.9 855.2,2598.8 845.7,2599.6 Z" fill="#999999"/>
<path d="M845.7,2435.0 C851.5,2435.6 895.6,2439.4 904.0,2440.6 C912.4,2441.8 931.4,2445.8 929.9,2447.2 C928.0,2448.6 893.9,2453.4 885.5,2454.6 C877.1,2455.8 849.7,2459.0 845.7,2459.4 Z" fill="url(#cy)"/>
<path d="M845.7,2471.3 C855.2,2472.0 927.7,2477.1 941.0,2478.7 C954.2,2480.2 978.0,2484.2 978.0,2486.8 C978.0,2489.4 943.9,2502.2 941.0,2504.6 C939.5,2507.0 949.9,2509.2 948.4,2510.9 C943.7,2512.5 893.2,2518.2 894.7,2521.2 C902.9,2524.2 1028.8,2537.3 1029.8,2540.8 C1030.7,2544.3 918.0,2553.0 904.0,2556.4 C889.9,2559.8 887.7,2572.0 889.2,2574.9 C893.3,2577.7 945.0,2583.5 944.7,2585.2 C944.3,2586.9 895.4,2590.2 885.5,2591.5 C875.6,2592.8 849.7,2597.2 845.7,2597.8 Z" fill="url(#cy)"/>
<path d="M845.7,2436.1 C847.8,2437.2 867.0,2445.0 867.0,2447.2 C867.0,2449.5 847.8,2457.2 845.7,2458.3 Z" fill="url(#mg)"/>
<path d="M845.7,2473.1 C847.5,2474.0 862.6,2478.5 863.3,2482.4 C863.9,2486.3 852.7,2506.4 852.2,2512.0 C851.6,2517.5 857.7,2532.7 857.7,2537.9 C857.7,2543.0 850.7,2559.0 852.2,2563.8 C853.9,2568.5 875.0,2582.2 874.4,2585.2 C873.7,2588.2 848.6,2593.2 845.7,2594.1 Z" fill="url(#mg)"/>
<rect x="1802" y="1455.8" width="142.5" height="6.4" fill="#8c8c8c"/>
<polygon points="1397.0,1443.5 1437.0,1447.8 1517.0,1451.2 1807.0,1455.8 1807.0,1462.2 1517.0,1467.5 1437.0,1471.1 1397.0,1474.5" fill="url(#rd)"/>
<rect x="1784" y="2118.3" width="160.5" height="6.4" fill="#8c8c8c"/>
<polygon points="1397.0,2106.5 1437.0,2110.7 1517.0,2114.0 1789.0,2118.3 1789.0,2124.7 1517.0,2129.8 1437.0,2133.2 1397.0,2136.5" fill="url(#rd)"/>
<line x1="838.5" y1="1543.6" x2="1238" y2="1543.6" stroke="#222" stroke-width="16.2" stroke-dasharray="50.3 19.3"/>
<line x1="433.5" y1="1848.8" x2="835" y2="1848.8" stroke="#222" stroke-width="15.8" stroke-dasharray="51 19"/>
<g stroke="#000" fill="none" stroke-linecap="butt">
<path d="M256,46.8 H1948.6 V2619.5 H256" stroke-width="9.0" stroke-linejoin="round"/>
<line x1="292.0" y1="46.8" x2="292.0" y2="2619.5" stroke-width="8.8"/>
<line x1="1394.2" y1="46.8" x2="1394.2" y2="2619.5" stroke-width="6.2"/>
</g>
<line x1="1954.6" y1="46" x2="1954.6" y2="2622" stroke="#e2e2e2" stroke-width="3.2"/>
<g stroke="#000" stroke-width="8.2" stroke-linecap="round">
<line x1="274.5" y1="207.6" x2="307" y2="207.6"/>
<line x1="259.5" y1="368.4" x2="323" y2="368.4"/>
<line x1="274.5" y1="529.2" x2="307" y2="529.2"/>
<line x1="259.5" y1="690.0" x2="323" y2="690.0"/>
<line x1="274.5" y1="850.8" x2="307" y2="850.8"/>
<line x1="259.5" y1="1011.6" x2="323" y2="1011.6"/>
<line x1="274.5" y1="1172.4" x2="307" y2="1172.4"/>
<line x1="259.5" y1="1333.1" x2="323" y2="1333.1"/>
<line x1="274.5" y1="1493.9" x2="307" y2="1493.9"/>
<line x1="259.5" y1="1654.7" x2="323" y2="1654.7"/>
<line x1="274.5" y1="1815.5" x2="307" y2="1815.5"/>
<line x1="259.5" y1="1976.3" x2="323" y2="1976.3"/>
<line x1="274.5" y1="2137.1" x2="307" y2="2137.1"/>
<line x1="259.5" y1="2297.9" x2="323" y2="2297.9"/>
<line x1="274.5" y1="2458.7" x2="307" y2="2458.7"/>
</g>
<g font-size="72px" text-anchor="end" fill="#000">
<text x="238" y="68.3">3</text>
<text x="238" y="389.9">2</text>
<text x="238" y="711.5">1</text>
<text x="238" y="1033.1">0</text>
<text x="238" y="1354.6">-1</text>
<text x="238" y="1676.2">-2</text>
<text x="238" y="1997.8">-3</text>
<text x="238" y="2319.4">-4</text>
<text x="238" y="2641.0">-5</text>
</g>
<text transform="translate(93.5,1662) rotate(-90)" font-size="86.6px" fill="#000"><tspan font-style="italic">E</tspan> - <tspan font-style="italic">E</tspan><tspan font-style="italic" font-size="49px" dy="30">VB</tspan><tspan dy="-30">(CoFe-PB)</tspan></text>
<text x="416" y="2739.5" font-size="86px" fill="#000">BiVO<tspan font-size="51px" dy="29" dx="2">4</tspan></text>
<text x="926" y="2732" font-size="85px" fill="#000">CoFe-PB</text>
<text x="1586" y="2727.5" font-size="82px" fill="#000">H<tspan font-size="49px" dy="30">2</tspan><tspan dy="-30">O</tspan></text>
<g stroke-linecap="butt">
<line x1="352" y1="1018.7" x2="519" y2="1018.7" stroke="#808080" stroke-width="6.5"/>
<line x1="352" y1="1108" x2="519" y2="1108" stroke="#008000" stroke-width="7"/>
<line x1="352" y1="1198" x2="519" y2="1198" stroke="#ffff00" stroke-width="7.5"/>
<line x1="352" y1="1287.3" x2="519" y2="1287.3" stroke="#ff2020" stroke-width="6.5"/>
<line x1="899.6" y1="457.7" x2="1066.8" y2="457.7" stroke="#808080" stroke-width="6.5"/>
<line x1="899.6" y1="549" x2="1066.8" y2="549" stroke="#800080" stroke-width="6.5"/>
<line x1="899.6" y1="639.4" x2="1066.8" y2="639.4" stroke="#0000ff" stroke-width="7"/>
<line x1="899.6" y1="728.2" x2="1066.8" y2="728.2" stroke="#00ffff" stroke-width="9"/>
<line x1="1638.8" y1="1156.3" x2="1807" y2="1156.3" stroke="#808080" stroke-width="5.5"/>
<line x1="1638.8" y1="1246.8" x2="1807" y2="1246.8" stroke="#ff0000" stroke-width="6"/>
</g>
<g font-size="71px" fill="#000">
<text x="537" y="1043">all</text>
<text x="537" y="1132.5">Bi</text>
<text x="537" y="1222">V</text>
<text x="537" y="1311.5">O</text>
<text x="1086" y="481.8">all</text>
<text x="1086" y="572.4">Co</text>
<text x="1086" y="663">Fe</text>
<text x="1086" y="751.9">CN</text>
<text x="1825" y="1179">all</text>
<text x="1825" y="1269.6">O</text>
</g>
<text x="966" y="172.4" font-size="67px" fill="#800080">Co (<tspan font-style="italic" font-size="71px" dx="5">e</tspan><tspan font-style="italic" font-size="43px" dy="20" dx="2">g</tspan><tspan dy="-20" dx="4" font-size="67px">)</tspan></text>
<text x="1134" y="1201.8" font-size="67px" fill="#0000ff">Fe (<tspan font-style="italic" font-size="71px" dx="2">t</tspan><tspan font-style="italic" font-size="46px" dy="20" dx="2">2g</tspan><tspan dy="-20" dx="5" font-size="67px">)</tspan></text>
<text x="1112" y="1680" font-size="67px" fill="#800080">Co (<tspan font-style="italic" font-size="71px" dx="2">t</tspan><tspan font-style="italic" font-size="46px" dy="20" dx="2">2g</tspan><tspan dy="-20" dx="5" font-size="67px">)</tspan></text>
<text transform="translate(1484.6,1552) scale(1.063,1)" font-size="66px" fill="#555">HOMO<tspan dx="-5"> (</tspan><tspan font-style="italic" dx="4">1b</tspan><tspan font-style="italic" font-size="38px" dy="14" dx="3">1</tspan><tspan dy="-14" dx="1">)</tspan></text>
<text transform="translate(1462.6,2225) scale(1.063,1)" font-size="66px" fill="#555">HOMO<tspan dx="-6.5"> -1 (</tspan><tspan font-style="italic" font-size="72px">3a</tspan><tspan font-style="italic" font-size="38px" dy="14" dx="4">1</tspan><tspan dy="-14" dx="0" font-size="66px">)</tspan></text>
<text x="545" y="1798.3" font-size="108px" fill="#000">h<tspan font-size="70px" dy="-25.7" dx="1">+</tspan></text>
<text x="1074.5" y="1498.2" font-size="108px" fill="#000">h<tspan font-size="70px" dy="-25.7" dx="1">+</tspan></text>
<path d="M692,1682.8 L692,1573.7 A54,54 0 0 1 746.3,1519.5 L776.5,1519.5 L776.5,1499.7 L812.9,1536.7 L776.5,1573.1 L776.5,1553.4 L746.3,1553.4 A20,20 0 0 0 726.6,1573.7 L726.6,1682.8 Z" fill="#000"/>
<rect x="1410.3" y="71.7" width="519.6" height="520.7" rx="2.5" fill="#fff" stroke="#1189d6" stroke-width="4.7"/>
<rect x="1524.5" y="537" width="126" height="52.9" fill="#c8d0c8"/>
<rect x="1656" y="402" width="123.5" height="187.9" fill="#d0ccd0"/>
<line x1="1653" y1="90.5" x2="1653" y2="590" stroke="#008c28" stroke-width="7"/>
<line x1="1781.6" y1="90.5" x2="1781.6" y2="590" stroke="#9040b8" stroke-width="5.6"/>
<line x1="1526" y1="205.6" x2="1653" y2="205.6" stroke="#008c28" stroke-width="12.2" />
<line x1="1526" y1="531" x2="1653" y2="531" stroke="#008000" stroke-width="12.2"/>
<line x1="1656" y1="397.4" x2="1780" y2="397.4" stroke="#8028a0" stroke-width="12"/>
<line x1="1585" y1="224" x2="1585" y2="514.5" stroke="#ff3c8c" stroke-width="3.6"/>
<polygon points="1585,219 1588.2,230 1581.8,230" fill="#ff2070"/>
<polyline points="1428.7,369.6 1429.8,367.4 1430.8,365.0 1431.9,362.6 1432.9,360.2 1434.0,357.9 1435.1,355.7 1436.1,353.7 1437.2,351.9 1438.2,350.5 1439.3,349.5 1440.4,348.8 1441.4,348.5 1442.5,348.6 1443.6,349.2 1444.6,350.1 1445.7,351.4 1446.7,353.1 1447.8,355.0 1448.9,357.1 1449.9,359.4 1451.0,361.8 1452.0,364.3 1453.1,366.6 1454.2,368.9 1455.2,371.0 1456.3,372.9 1457.3,374.5 1458.4,375.7 1459.5,376.6 1460.5,377.0 1461.6,377.1 1462.6,376.7 1463.7,376.0 1464.8,374.8 1465.8,373.3 1466.9,371.6 1468.0,369.5 1469.0,367.3 1470.1,364.9 1471.1,362.5 1472.2,360.1 1473.3,357.7 1474.3,355.6 1475.4,353.6 1476.4,351.9 1477.5,350.5 1478.6,349.4 1479.6,348.8 1480.7,348.5 1481.7,348.7 1482.8,349.2 1483.9,350.2 1484.9,351.5 1486.0,353.2 1487.0,355.1 1488.1,357.2 1489.2,359.5 1490.2,361.9 1491.3,364.4 1492.3,366.8 1493.4,369.0 1494.5,371.1 1495.5,373.0 1496.6,374.5 1497.7,375.7 1498.7,376.6 1499.8,377.0 1500.8,377.1 1501.9,376.7 1503.0,375.9 1504.0,374.8 1505.1,373.3 1506.1,371.5 1507.2,369.4 1508.3,367.2 1509.3,364.8 1510.4,362.4 1511.4,360.0 1512.5,357.6 1513.6,355.5 1514.6,353.5 1515.7,351.8 1516.7,350.4 1517.8,349.4 1518.9,348.7 1519.9,348.5 1521.0,348.7 1522.1,349.3 1523.1,350.2 1524.2,351.6 1525.2,353.2 1526.3,355.2 1527.4,357.3 1528.4,359.7 1529.5,362.1 1530.5,364.5 1531.6,366.9 1532.7,369.1 1533.7,371.2 1534.8,373.0 1535.8,374.6 1536.9,375.8 1538.0,376.6 1539.0,377.0 1540.1,377.1 1541.1,376.7 1542.2,375.9 1543.3,374.7 1544.3,373.2 1545.4,371.4 1546.5,369.3 1547.5,367.1 1548.6,364.7 1549.6,362.3 1550.7,359.9 1551.8,357.5 1552.8,355.4 1553.9,353.4 1554.9,351.7 1556.0,350.3" fill="none" stroke="#ff3399" stroke-width="4.2" stroke-linejoin="round" stroke-linecap="round"/>
<polygon points="1576,361.5 1554.5,349.5 1558,362 1554.5,373.5" fill="#ff3399"/>
<text x="1429" y="334.4" font-size="28.3px" font-style="italic" font-weight="bold" fill="#ff4f9a">hν ≈ 2.5 eV</text>
<text x="1449" y="122" font-size="38.5px" font-weight="bold" fill="#009030">BiVO<tspan font-size="22px" dy="8">4</tspan></text>
<text x="1669.5" y="124" font-size="38.5px" font-weight="bold" fill="#9040b8">CoFe</text>
<text x="1460.5" y="220" font-size="42.5px" fill="#009030" stroke="#009030" stroke-width="0.8">CB</text>
<text x="1464" y="546.2" font-size="41.5px" fill="#009030" stroke="#009030" stroke-width="0.8">VB</text>
<text x="1573" y="193" font-size="45px" fill="#009030" stroke="#009030" stroke-width="0.8">e<tspan font-size="22px" dy="-18" dx="1" stroke="none" fill="#66bb77">-</tspan></text>
<text x="1574" y="576.7" font-size="40px" font-weight="bold" fill="#008c28">h<tspan font-size="26px" dy="-13">+</tspan></text>
<text x="1676" y="333.5" font-size="42px" fill="#9040b8" stroke="#9040b8" stroke-width="0.6">e<tspan font-size="22px" dy="-16" dx="1" stroke="none" fill="#c090d8">-</tspan></text>
<text x="1802.5" y="306.2" font-size="45px" fill="#0b3c8c" stroke="#0b3c8c" stroke-width="0.9">e<tspan font-size="22px" dy="-18" dx="1" stroke="none" fill="#5577aa">-</tspan></text>
<text x="1813" y="386.7" font-size="41.5px" font-style="italic" fill="#858585" stroke="#858585" stroke-width="0.7">H<tspan font-size="28px" dy="11">2</tspan><tspan dy="-11">O</tspan></text>
<path d="M1701.7,364.7 C1698.8,362.5 1690.3,354.3 1683.8,351.1 C1677.3,347.9 1668.5,344.5 1660.8,344.8 C1653.1,345.1 1642.6,349.2 1635.6,353.2 C1628.6,357.2 1620.8,364.0 1616.8,370.0 C1612.8,376.0 1611.5,384.9 1610.5,390.9 C1609.5,396.9 1610.5,405.0 1610.5,407.7 L1606.8,417.3 L1623.1,422.8 L1630.0,405.2 L1622.0,405.6 C1621.8,403.2 1620.2,395.9 1621.0,390.9 C1621.8,385.9 1624.0,379.1 1627.3,374.2 C1630.6,369.3 1636.5,363.7 1641.9,360.5 C1647.3,357.3 1655.1,354.4 1660.8,354.2 C1666.5,354.0 1672.6,356.5 1677.6,359.5 C1682.6,362.5 1689.9,370.9 1692.2,373.1 Z" fill="#7a2080"/>
<path d="M1841.1,335.4 C1837.7,332.6 1828.5,322.1 1820.1,317.6 C1811.7,313.1 1797.8,307.5 1788.7,307.5 C1779.6,307.5 1770.2,313.3 1763.5,317.6 C1756.8,321.9 1750.4,328.6 1746.7,334.3 C1743.0,340.0 1741.6,349.1 1740.4,353.2 C1739.2,357.3 1739.6,358.9 1739.5,360.0 L1736.3,365.8 L1749.9,374.2 L1761.4,359.5 L1750.5,360.0 C1750.4,358.9 1749.2,356.6 1749.9,353.2 C1750.6,349.8 1752.3,343.2 1755.1,338.5 C1757.9,333.8 1762.3,327.5 1767.7,323.8 C1773.1,320.1 1781.7,315.5 1788.7,315.5 C1795.7,315.5 1805.2,319.8 1811.7,323.8 C1818.2,327.8 1826.7,337.9 1829.5,340.6 Z" fill="#0a56a0"/>
</svg>
</body></html>
